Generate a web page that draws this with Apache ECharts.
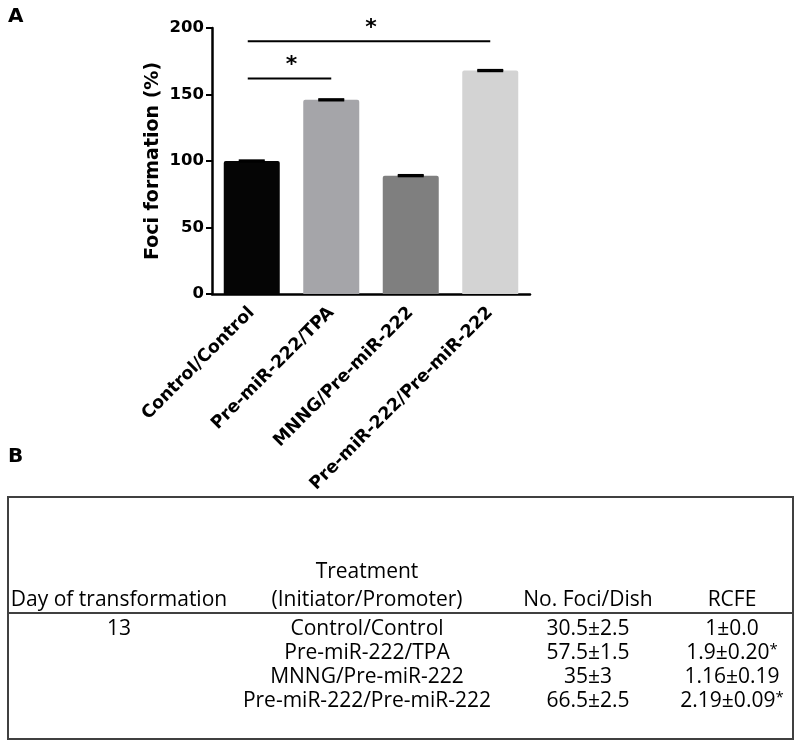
<!DOCTYPE html>
<html>
<head>
<meta charset="utf-8">
<script src="https://cdn.jsdelivr.net/npm/echarts@6/dist/echarts.min.js"></script>
<style>
  html, body { margin: 0; padding: 0; background: #fff; }
  #chart { width: 800px; height: 745px; }
</style>
</head>
<body>
<div id="chart"></div>
<script>
// ---- Panel A data ----
const categories = ['Control/Control', 'Pre-miR-222/TPA', 'MNNG/Pre-miR-222', 'Pre-miR-222/Pre-miR-222'];
const fociValues = [100, 146, 89, 168];
const fociErrors = [0.5, 0.5, 0.5, 0.5];
const yMin = 0, yMax = 200, yInterval = 50;
const sigComparisons = [[0, 1], [0, 3]];
const sigHeights = [162, 190];
const sigMarks = ['*', '*'];

// ---- Panel B table data ----
const tableHeaderTop = ['', 'Treatment', '', ''];
const tableHeaderBottom = ['Day of transformation', '(Initiator/Promoter)', 'No. Foci/Dish', 'RCFE'];
const tableDays = ['13', '', '', ''];
const tableTreatments = ['Control/Control', 'Pre-miR-222/TPA', 'MNNG/Pre-miR-222', 'Pre-miR-222/Pre-miR-222'];
const tableFoci = ['30.5±2.5', '57.5±1.5', '35±3', '66.5±2.5'];
const tableRcfe = ['1±0.0', '1.9±0.20', '1.16±0.19', '2.19±0.09'];
const tableRcfeSig = ['', '*', '', '*'];

// ---- styling / layout ----
const barColors = ['#050505', '#a5a5a9', '#7f7f7f', '#d3d3d3'];
const boldFont = 'DejaVu Sans';
const tableFont = 'Open Sans';
const colCenters = [119, 367, 588, 732];
const rowMidY = [629, 653, 677, 701];
const headTopY = 572;
const headBotY = 600;

const chart = echarts.init(document.getElementById('chart'), null, { renderer: 'canvas' });

const graphics = [];
graphics.push({ type: 'text', left: 8, top: 7, style: { text: 'A', font: 'bold 20px "DejaVu Sans"', fill: '#000' } });
graphics.push({ type: 'text', left: 8, top: 447, style: { text: 'B', font: 'bold 20px "DejaVu Sans"', fill: '#000' } });
// table frame
graphics.push({ type: 'rect', shape: { x: 8, y: 497, width: 785, height: 242 }, style: { fill: 'none', stroke: '#404040', lineWidth: 2 } });
graphics.push({ type: 'line', shape: { x1: 8, y1: 613, x2: 793, y2: 613 }, style: { stroke: '#404040', lineWidth: 2 } });

function addText(txt, x, y) {
  if (!txt) return;
  graphics.push({
    type: 'text', x: x, y: y,
    style: { text: txt, fontFamily: tableFont, fontSize: 21, fill: '#000', align: 'center', verticalAlign: 'middle' }
  });
}
tableHeaderTop.forEach((t, i) => addText(t, colCenters[i], headTopY));
tableHeaderBottom.forEach((t, i) => addText(t, colCenters[i], headBotY));
tableDays.forEach((t, r) => addText(t, colCenters[0], rowMidY[r]));
tableTreatments.forEach((t, r) => addText(t, colCenters[1], rowMidY[r]));
tableFoci.forEach((t, r) => addText(t, colCenters[2], rowMidY[r]));
tableRcfe.forEach((t, r) => {
  graphics.push({
    type: 'text', x: colCenters[3], y: rowMidY[r],
    style: {
      text: '{v|' + t + '}' + (tableRcfeSig[r] ? '{s|' + tableRcfeSig[r] + '}' : ''),
      align: 'center', verticalAlign: 'middle',
      rich: {
        v: { fontFamily: tableFont, fontSize: 21, color: '#000' },
        s: { fontFamily: tableFont, fontSize: 15, color: '#000', verticalAlign: 'top', padding: [0, 0, 6, 0] }
      }
    }
  });
});

const option = {
  animation: false,
  backgroundColor: '#fff',
  grid: { left: 212, top: 28, width: 318, height: 266, containLabel: false },
  xAxis: {
    type: 'category',
    data: categories,
    axisLine: { lineStyle: { color: '#000', width: 2.5 } },
    axisTick: { alignWithLabel: true, length: 7, lineStyle: { color: '#000', width: 2 } },
    axisLabel: { rotate: 45, margin: 16, color: '#000', fontFamily: boldFont, fontWeight: 'bold', fontSize: 17.5, interval: 0 }
  },
  yAxis: {
    type: 'value',
    min: yMin, max: yMax, interval: yInterval,
    name: 'Foci formation (%)',
    nameLocation: 'middle',
    nameGap: 49,
    nameTextStyle: { color: '#000', fontFamily: boldFont, fontWeight: 'bold', fontSize: 19 },
    axisLine: { show: true, lineStyle: { color: '#000', width: 2.5 } },
    axisTick: { show: true, length: 6, lineStyle: { color: '#000', width: 2 } },
    axisLabel: { margin: 8, color: '#000', fontFamily: boldFont, fontWeight: 'bold', fontSize: 16.5 },
    splitLine: { show: false }
  },
  series: [
    {
      type: 'bar',
      barWidth: 56,
      data: fociValues.map((v, i) => ({ value: v, itemStyle: { color: barColors[i], borderRadius: [2, 2, 0, 0] } })),
      z: 2
    },
    {
      type: 'custom',
      z: 3,
      data: fociValues.map((v, i) => [i, v, fociErrors[i]]),
      renderItem: function (params, api) {
        const x = api.value(0), v = api.value(1), e = api.value(2);
        const top = api.coord([x, v + e]);
        const bot = api.coord([x, v - e]);
        const hw = 13;
        return {
          type: 'group',
          children: [
            { type: 'line', shape: { x1: top[0], y1: top[1], x2: bot[0], y2: bot[1] }, style: { stroke: '#000', lineWidth: 2 } },
            { type: 'line', shape: { x1: top[0] - hw, y1: top[1], x2: top[0] + hw, y2: top[1] }, style: { stroke: '#000', lineWidth: 2 } },
            { type: 'line', shape: { x1: bot[0] - hw, y1: bot[1], x2: bot[0] + hw, y2: bot[1] }, style: { stroke: '#000', lineWidth: 2 } }
          ]
        };
      }
    },
    {
      type: 'custom',
      z: 4,
      clip: false,
      data: sigComparisons.map((p, i) => [p[0], p[1], sigHeights[i], i]),
      renderItem: function (params, api) {
        const a = api.coord([api.value(0), api.value(2)]);
        const b = api.coord([api.value(1), api.value(2)]);
        const mark = sigMarks[api.value(3)];
        return {
          type: 'group',
          children: [
            { type: 'line', shape: { x1: a[0] - 4, y1: a[1], x2: b[0], y2: b[1] }, style: { stroke: '#000', lineWidth: 2 } },
            { type: 'text', x: (a[0] + b[0]) / 2, y: a[1] - 13, style: { text: mark, fontFamily: boldFont, fontWeight: 'bold', fontSize: 22, fill: '#000', align: 'center', verticalAlign: 'middle' } }
          ]
        };
      }
    }
  ],
  graphic: graphics
};
chart.setOption(option);
</script>
</body>
</html>
